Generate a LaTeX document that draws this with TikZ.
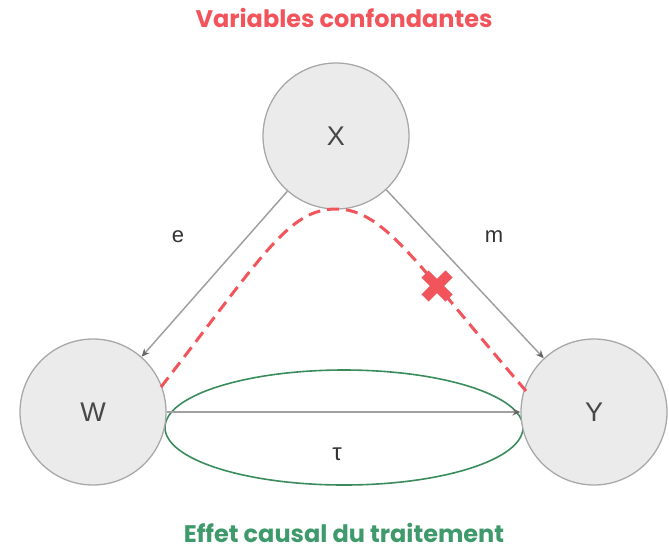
\documentclass[tikz,border=0pt]{standalone}
\usepackage{fontspec}
\setmainfont{Liberation Sans}
\newfontfamily\titlefont{Poppins}
\usetikzlibrary{shapes.geometric,arrows.meta}
\definecolor{redc}{HTML}{F2545B}
\definecolor{greent}{HTML}{3F9A6B}
\definecolor{greene}{HTML}{3A8C5C}
\definecolor{cfill}{HTML}{EBEBEB}
\definecolor{cline}{HTML}{A8A8A8}
\definecolor{aline}{HTML}{A0A0A0}
\begin{document}
\begin{tikzpicture}[x=1pt,y=-1pt,
  var/.style={circle,draw=cline,fill=cfill,line width=1.3pt,minimum size=146pt,inner sep=0pt,font=\fontsize{27}{27}\selectfont,text=black!72},
  link/.style={draw=aline,line width=1.5pt,-{Stealth[length=8pt,width=7pt,color=black!60]}},
  lbl/.style={font=\fontsize{22}{22}\selectfont,text=black!80},
  title/.style={font=\titlefont\bfseries\fontsize{24}{24}\selectfont},
  confound/.style={draw=redc,line width=3pt,dash pattern=on 12pt off 7pt},
  cross/.style={draw=redc,line width=10pt}
]
\useasboundingbox (0,0) rectangle (669,549);
\node[title,text=redc,anchor=base] (t1) at (344,27) {Variables confondantes};
\node[title,text=greent,anchor=base] (t2) at (344,542) {Effet causal du traitement};
\node[draw=greene,line width=1.6pt,ellipse,minimum width=358pt,minimum height=115pt,inner sep=0pt] (ell) at (344,427.5) {};
\node[var] (X) at (336,136) {X};
\node[var] (W) at (93,412) {W};
\node[var] (Y) at (594,412) {Y};
\draw[link] (X) -- (W);
\draw[link] (X) -- (Y);
\draw[link] (W) -- (Y);
\node[lbl] (e) at (178,237) {e};
\node[lbl] (m) at (494,237) {m};
\node[font=\fontsize{24}{24}\selectfont,text=black!80] (tau) at (337,454) {τ};
\coordinate (ca) at (161,387);
\coordinate (cp) at (336,209);
\coordinate (cb) at (526,391);
\draw[confound] (ca) .. controls (262,257) and (288,209) .. (cp) .. controls (384,209) and (415,262) .. (cb);
\coordinate (k) at (437,286);
\draw[cross] ([shift={(-12,-12)}]k) -- ([shift={(12,12)}]k);
\draw[cross] ([shift={(12,-12)}]k) -- ([shift={(-12,12)}]k);
\end{tikzpicture}
\end{document}
